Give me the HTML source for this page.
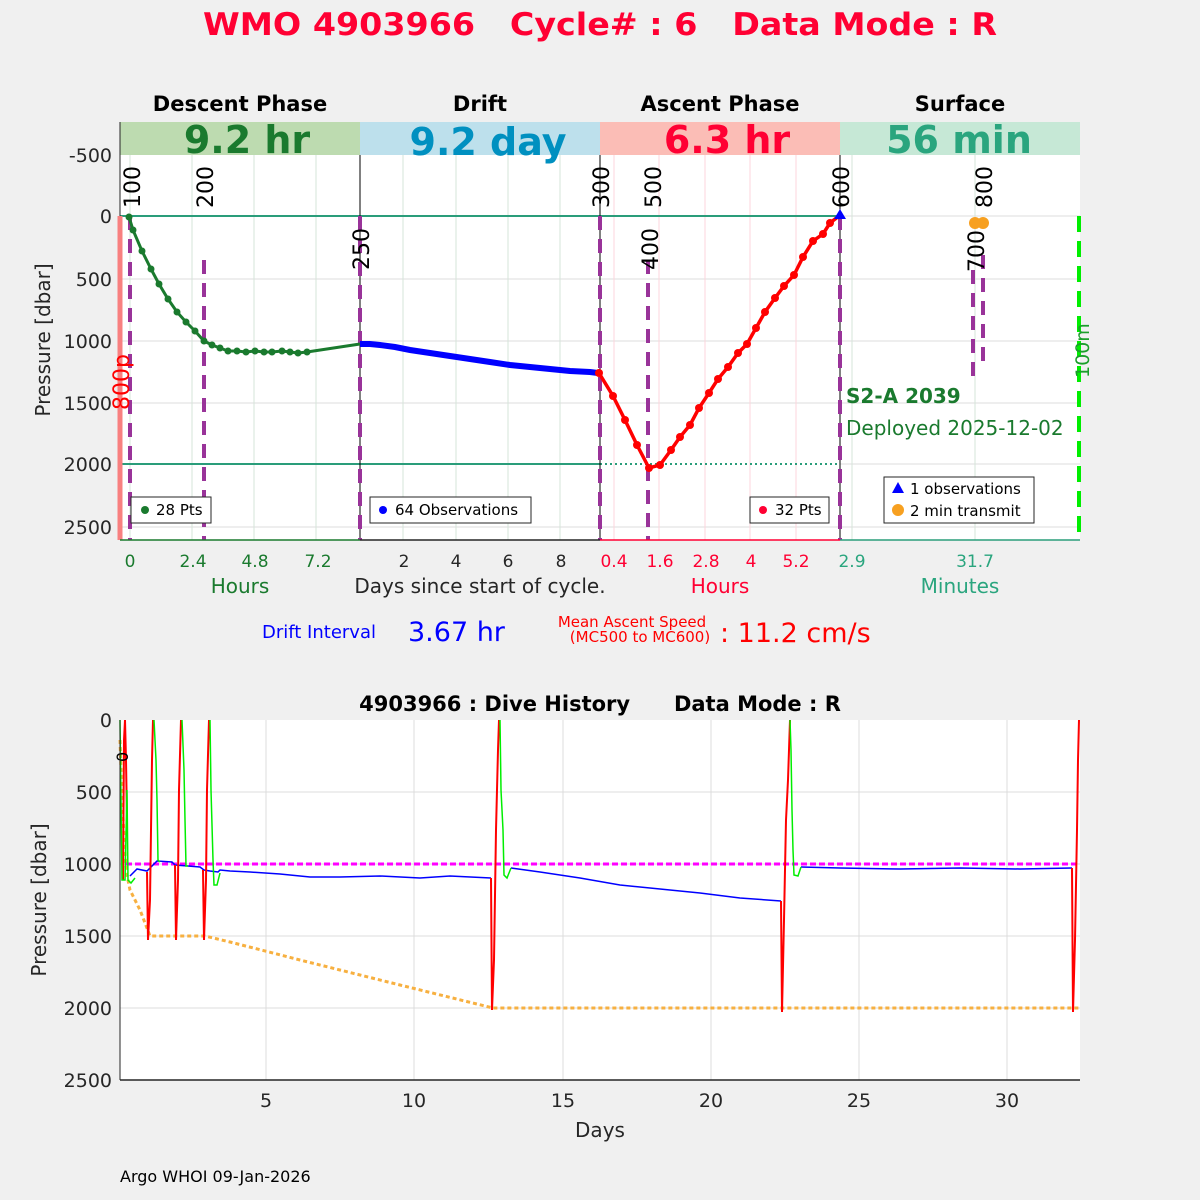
<!DOCTYPE html>
<html><head><meta charset="utf-8">
<style>
html,body{margin:0;padding:0;background:#f0f0f0;}
svg{display:block;font-family:"DejaVu Sans","Liberation Sans",sans-serif;}
</style></head><body>
<svg width="1200" height="1200" viewBox="0 0 1200 1200" xmlns="http://www.w3.org/2000/svg">
<rect width="1200" height="1200" fill="#f0f0f0"/>
<!-- title -->
<text x="600" y="35" text-anchor="middle" font-size="31" font-weight="bold" fill="#ff0033" textLength="794" lengthAdjust="spacingAndGlyphs" xml:space="preserve">WMO 4903966   Cycle# : 6   Data Mode : R</text>

<!-- phase titles -->
<g font-size="21" font-weight="bold" fill="#000" text-anchor="middle">
<text x="240" y="111">Descent Phase</text>
<text x="480" y="111">Drift</text>
<text x="720" y="111">Ascent Phase</text>
<text x="960" y="111">Surface</text>
</g>

<!-- top plot area -->
<rect x="120" y="122" width="960" height="418" fill="#fff"/>
<rect x="120" y="122" width="240" height="33" fill="#bddbb0"/>
<rect x="360" y="122" width="240" height="33" fill="#bde0ec"/>
<rect x="600" y="122" width="240" height="33" fill="#fbbdb6"/>
<rect x="840" y="122" width="240" height="33" fill="#c6e8d6"/>
<g font-size="38" font-weight="bold" text-anchor="middle">
<text x="247" y="153" fill="#1a7a2e">9.2 hr</text>
<text x="488" y="155" fill="#0090c0">9.2 day</text>
<text x="727" y="153" fill="#ff0033">6.3 hr</text>
<text x="959" y="153" fill="#2aa57e">56 min</text>
</g>

<!-- grid -->
<g stroke="#dcdcdc" stroke-width="1">
<line x1="120" y1="279" x2="1080" y2="279"/>
<line x1="120" y1="341" x2="1080" y2="341"/>
<line x1="120" y1="403" x2="1080" y2="403"/>
<line x1="120" y1="527" x2="1080" y2="527"/>
<line x1="840" y1="216" x2="1080" y2="216"/>
<line x1="840" y1="464" x2="1080" y2="464"/>
</g>
<g stroke="#d6e4da" stroke-width="1">
<line x1="130" y1="155" x2="130" y2="540"/><line x1="192" y1="155" x2="192" y2="540"/>
<line x1="254" y1="155" x2="254" y2="540"/><line x1="316" y1="155" x2="316" y2="540"/>
<line x1="403" y1="155" x2="403" y2="540"/><line x1="456" y1="155" x2="456" y2="540"/>
<line x1="508" y1="155" x2="508" y2="540"/><line x1="560" y1="155" x2="560" y2="540"/>
<line x1="852" y1="155" x2="852" y2="540"/><line x1="975" y1="155" x2="975" y2="540"/>
</g>
<g stroke="#fcd6dc" stroke-width="1">
<line x1="614" y1="155" x2="614" y2="540"/><line x1="659" y1="155" x2="659" y2="540"/>
<line x1="705" y1="155" x2="705" y2="540"/><line x1="750" y1="155" x2="750" y2="540"/>
<line x1="796" y1="155" x2="796" y2="540"/>
</g>
<!-- reference lines -->
<line x1="120" y1="216" x2="840" y2="216" stroke="#2a9d7a" stroke-width="2"/>
<line x1="120" y1="464" x2="600" y2="464" stroke="#2a9d7a" stroke-width="2"/>
<line x1="600" y1="464" x2="840" y2="464" stroke="#2a9d7a" stroke-width="2" stroke-dasharray="2,3"/>
<!-- phase separators -->
<g stroke="#000" stroke-width="1">
<line x1="360" y1="155" x2="360" y2="540"/><line x1="600" y1="155" x2="600" y2="540"/><line x1="840" y1="155" x2="840" y2="540"/>
</g>
<!-- left axis -->
<line x1="120" y1="122" x2="120" y2="540" stroke="#262626"/>
<line x1="120" y1="216" x2="120" y2="540" stroke="#f88080" stroke-width="5"/>
<g font-size="19" fill="#262626" text-anchor="end">
<text x="112" y="162">-500</text><text x="112" y="223">0</text><text x="112" y="286">500</text>
<text x="112" y="348">1000</text><text x="112" y="410">1500</text><text x="112" y="471">2000</text><text x="112" y="534">2500</text>
</g>
<text transform="translate(50,340) rotate(-90)" font-size="20" fill="#262626" text-anchor="middle">Pressure [dbar]</text>

<!-- purple dashed -->
<g stroke="#993399" stroke-width="4" stroke-dasharray="14,9" fill="none">
<line x1="130" y1="216" x2="130" y2="540"/>
<line x1="204" y1="260" x2="204" y2="540"/>
<line x1="360" y1="216" x2="360" y2="540"/>
<line x1="600" y1="216" x2="600" y2="540"/>
<line x1="648" y1="260" x2="648" y2="540"/>
<line x1="840" y1="216" x2="840" y2="540"/>
<line x1="973" y1="270" x2="973" y2="378"/>
<line x1="983" y1="255" x2="983" y2="366"/>
</g>
<line x1="1079" y1="216" x2="1079" y2="540" stroke="#00ee00" stroke-width="4" stroke-dasharray="16,9"/>

<!-- rotated labels -->
<g font-size="22" fill="#000">
<text transform="translate(140,208) rotate(-90)">100</text>
<text transform="translate(213,208) rotate(-90)">200</text>
<text transform="translate(369,270) rotate(-90)">250</text>
<text transform="translate(609,208) rotate(-90)">300</text>
<text transform="translate(661,208) rotate(-90)">500</text>
<text transform="translate(658,270) rotate(-90)">400</text>
<text transform="translate(849,208) rotate(-90)">600</text>
<text transform="translate(984,272) rotate(-90)">700</text>
<text transform="translate(992,208) rotate(-90)">800</text>
</g>
<text transform="translate(129,410) rotate(-90)" font-size="22" fill="#ff0000">800p</text>
<text transform="translate(1089,378) rotate(-90)" font-size="19" fill="#1a9e2a">100m</text>

<!-- descent series -->
<polyline fill="none" stroke="#1a7a2e" stroke-width="3" points="129,217 133,230 142,251 151,269 159,284 168,299 177,312 186,322 195,331 204,341 212,345 220,348 228,351 237,351 246,352 255,351 264,352 272,352 282,351 290,352 298,353 307,352 360,344"/>
<g fill="#1a7a2e">
<circle cx="129" cy="217" r="3.5"/><circle cx="133" cy="230" r="3.5"/><circle cx="142" cy="251" r="3.5"/><circle cx="151" cy="269" r="3.5"/><circle cx="159" cy="284" r="3.5"/><circle cx="168" cy="299" r="3.5"/><circle cx="177" cy="312" r="3.5"/><circle cx="186" cy="322" r="3.5"/><circle cx="195" cy="331" r="3.5"/><circle cx="204" cy="341" r="3.5"/><circle cx="212" cy="345" r="3.5"/><circle cx="220" cy="348" r="3.5"/><circle cx="228" cy="351" r="3.5"/><circle cx="237" cy="351" r="3.5"/><circle cx="246" cy="352" r="3.5"/><circle cx="255" cy="351" r="3.5"/><circle cx="264" cy="352" r="3.5"/><circle cx="272" cy="352" r="3.5"/><circle cx="282" cy="351" r="3.5"/><circle cx="290" cy="352" r="3.5"/><circle cx="298" cy="353" r="3.5"/><circle cx="307" cy="352" r="3.5"/>
</g>
<!-- drift series -->
<polyline fill="none" stroke="#0000ff" stroke-width="6" points="360,344 370,344 380,345 395,347 410,350 430,353 450,356 470,359 490,362 510,365 530,367 550,369 570,371 590,372 598,373"/>
<!-- ascent series -->
<polyline fill="none" stroke="#ff0000" stroke-width="3.5" points="599,373 613,396 625,420 637,445 649,468 660,465 671,450 680,437 690,425 699,408 709,393 718,379 728,367 738,353 747,344 756,328 765,312 775,298 784,286 794,275 803,257 813,241 823,234 830,223 839,216"/>
<g fill="#ff0000">
<circle cx="599" cy="373" r="4"/><circle cx="613" cy="396" r="4"/><circle cx="625" cy="420" r="4"/><circle cx="637" cy="445" r="4"/><circle cx="649" cy="468" r="4"/><circle cx="660" cy="465" r="4"/><circle cx="671" cy="450" r="4"/><circle cx="680" cy="437" r="4"/><circle cx="690" cy="425" r="4"/><circle cx="699" cy="408" r="4"/><circle cx="709" cy="393" r="4"/><circle cx="718" cy="379" r="4"/><circle cx="728" cy="367" r="4"/><circle cx="738" cy="353" r="4"/><circle cx="747" cy="344" r="4"/><circle cx="756" cy="328" r="4"/><circle cx="765" cy="312" r="4"/><circle cx="775" cy="298" r="4"/><circle cx="784" cy="286" r="4"/><circle cx="794" cy="275" r="4"/><circle cx="803" cy="257" r="4"/><circle cx="813" cy="241" r="4"/><circle cx="823" cy="234" r="4"/><circle cx="830" cy="223" r="4"/>
</g>
<polygon points="840,209 834,219 846,219" fill="#0000ff"/>
<circle cx="975" cy="223" r="6" fill="#f7a020"/><circle cx="983" cy="223" r="6" fill="#f7a020"/>

<!-- float info -->
<text x="846" y="403" font-size="20" font-weight="bold" fill="#1a7a2e">S2-A 2039</text>
<text x="846" y="435" font-size="20" fill="#1a7a2e">Deployed 2025-12-02</text>

<!-- legends -->
<g font-size="15" fill="#000">
<rect x="131" y="497" width="80" height="26" fill="#fff" stroke="#262626"/>
<circle cx="145" cy="510" r="4" fill="#1a7a2e"/><text x="156" y="515">28 Pts</text>
<rect x="370" y="497" width="161" height="26" fill="#fff" stroke="#262626"/>
<circle cx="383" cy="510" r="4" fill="#0000ff"/><text x="395" y="515">64 Observations</text>
<rect x="750" y="497" width="79" height="26" fill="#fff" stroke="#262626"/>
<circle cx="763" cy="510" r="4" fill="#ff0033"/><text x="775" y="515">32 Pts</text>
<rect x="884" y="477" width="150" height="46" fill="#fff" stroke="#262626"/>
<polygon points="898,482 892,493 904,493" fill="#0000ff"/><text x="910" y="494">1 observations</text>
<circle cx="898" cy="510" r="6" fill="#f7a020"/><text x="910" y="516">2 min transmit</text>
</g>

<!-- bottom axis of top plot -->
<line x1="120" y1="540" x2="360" y2="540" stroke="#1a7a2e" stroke-width="1.5"/>
<line x1="360" y1="540" x2="600" y2="540" stroke="#262626" stroke-width="1.5"/>
<line x1="600" y1="540" x2="840" y2="540" stroke="#ff0033" stroke-width="1.5"/>
<line x1="840" y1="540" x2="1080" y2="540" stroke="#2a9d7a" stroke-width="1.5"/>
<g font-size="17" text-anchor="middle">
<g fill="#1a7a2e"><text x="130" y="567">0</text><text x="193" y="567">2.4</text><text x="255" y="567">4.8</text><text x="318" y="567">7.2</text></g>
<g fill="#262626"><text x="404" y="567">2</text><text x="456" y="567">4</text><text x="508" y="567">6</text><text x="561" y="567">8</text></g>
<g fill="#ff0033"><text x="614" y="567">0.4</text><text x="660" y="567">1.6</text><text x="706" y="567">2.8</text><text x="751" y="567">4</text><text x="796" y="567">5.2</text></g>
<g fill="#2aa57e"><text x="852" y="567">2.9</text><text x="975" y="567">31.7</text></g>
</g>
<g font-size="20" text-anchor="middle">
<text x="240" y="593" fill="#1a7a2e">Hours</text>
<text x="480" y="593" fill="#262626">Days since start of cycle.</text>
<text x="720" y="593" fill="#ff0033">Hours</text>
<text x="960" y="593" fill="#2aa57e">Minutes</text>
</g>
<text x="262" y="638" font-size="18" fill="#0000ff">Drift Interval</text>
<text x="408" y="641" font-size="27" fill="#0000ff">3.67 hr</text>
<text x="632" y="627" font-size="15" fill="#ff0000" text-anchor="middle">Mean Ascent Speed</text>
<text x="640" y="642" font-size="15" fill="#ff0000" text-anchor="middle">(MC500 to MC600)</text>
<text x="720" y="642" font-size="27" fill="#ff0000">:  11.2 cm/s</text>

<!-- ===== bottom chart ===== -->
<text x="600" y="711" font-size="21" font-weight="bold" fill="#000" text-anchor="middle" xml:space="preserve">4903966 : Dive History      Data Mode : R</text>
<rect x="120" y="720" width="960" height="360" fill="#fff"/>
<g stroke="#dcdcdc">
<line x1="120" y1="792" x2="1080" y2="792"/><line x1="120" y1="864" x2="1080" y2="864"/>
<line x1="120" y1="936" x2="1080" y2="936"/><line x1="120" y1="1008" x2="1080" y2="1008"/>
<line x1="266" y1="720" x2="266" y2="1080"/><line x1="414" y1="720" x2="414" y2="1080"/>
<line x1="563" y1="720" x2="563" y2="1080"/><line x1="711" y1="720" x2="711" y2="1080"/>
<line x1="859" y1="720" x2="859" y2="1080"/><line x1="1007" y1="720" x2="1007" y2="1080"/>
</g>
<!-- orange dotted -->
<polyline fill="none" stroke="#f7b040" stroke-width="3" stroke-dasharray="4,3" points="120,740 122,800 126,870 130,890 140,910 150,936 205,936 230,942 300,960 400,985 493,1008 1080,1008"/>
<!-- magenta dashed -->
<line x1="126" y1="864" x2="1080" y2="864" stroke="#ff00ff" stroke-width="3" stroke-dasharray="6,3"/>
<!-- blue drift -->
<polyline fill="none" stroke="#0000ff" stroke-width="1.5" points="130,876 137,869 147,871 157,861 172,862 175,865 188,866 200,867 204,870 210,871 218,872 220,870 230,871 250,872 280,874 310,877 340,877 380,876 420,878 450,876 491,878"/>
<polyline fill="none" stroke="#0000ff" stroke-width="1.5" points="511,868 540,872 580,878 620,885 660,889 700,893 740,898 781,901"/>
<polyline fill="none" stroke="#0000ff" stroke-width="1.5" points="801,867 840,868 900,869 960,868 1020,869 1072,868"/>
<!-- red ascents -->
<g fill="none" stroke="#ff0000" stroke-width="2">
<polyline points="123,880 124,740 125,720 126,760 127,820"/>
<polyline points="147,872 148,940 150,900 151,830 152,760 153,720"/>
<polyline points="175,865 176,940 178,880 179,790 181,720"/>
<polyline points="203,870 204,940 206,880 207,790 209,720"/>
<polyline points="491,878 492,1010 494,960 496,830 498,750 499,720"/>
<polyline points="781,901 782,1012 784,920 786,820 788,780 790,720"/>
<polyline points="1072,868 1073,1012 1075,940 1077,830 1078,760 1079,720"/>
</g>
<!-- green descents -->
<g fill="none" stroke="#00ee00" stroke-width="1.5">
<polyline points="120,720 121,800 122,880 125,880 127,790 128,880 131,883 135,878"/>
<polyline points="154,720 156,760 157,800 158,860 160,862"/>
<polyline points="182,720 184,770 185,820 186,866 188,866"/>
<polyline points="210,720 211,790 213,860 214,885 217,885 220,873"/>
<polyline points="500,720 501,790 503,830 504,875 507,878 511,868"/>
<polyline points="790,720 791,750 792,810 793,850 794,875 798,876 801,867"/>
</g>
<text transform="translate(128,762) rotate(-90)" font-size="16" fill="#000">0</text>
<line x1="120" y1="720" x2="120" y2="1080" stroke="#262626"/>
<line x1="120" y1="1080" x2="1080" y2="1080" stroke="#262626" stroke-width="1.5"/>
<g font-size="19" fill="#262626" text-anchor="end">
<text x="112" y="727">0</text><text x="112" y="799">500</text><text x="112" y="871">1000</text>
<text x="112" y="943">1500</text><text x="112" y="1015">2000</text><text x="112" y="1087">2500</text>
</g>
<g font-size="19" fill="#262626" text-anchor="middle">
<text x="266" y="1107">5</text><text x="414" y="1107">10</text><text x="563" y="1107">15</text>
<text x="711" y="1107">20</text><text x="859" y="1107">25</text><text x="1007" y="1107">30</text>
<text x="600" y="1137" font-size="20">Days</text>
</g>
<text transform="translate(46,900) rotate(-90)" font-size="20" fill="#262626" text-anchor="middle">Pressure [dbar]</text>
<text x="120" y="1182" font-size="16" fill="#000">Argo WHOI 09-Jan-2026</text>
</svg>
</body></html>
